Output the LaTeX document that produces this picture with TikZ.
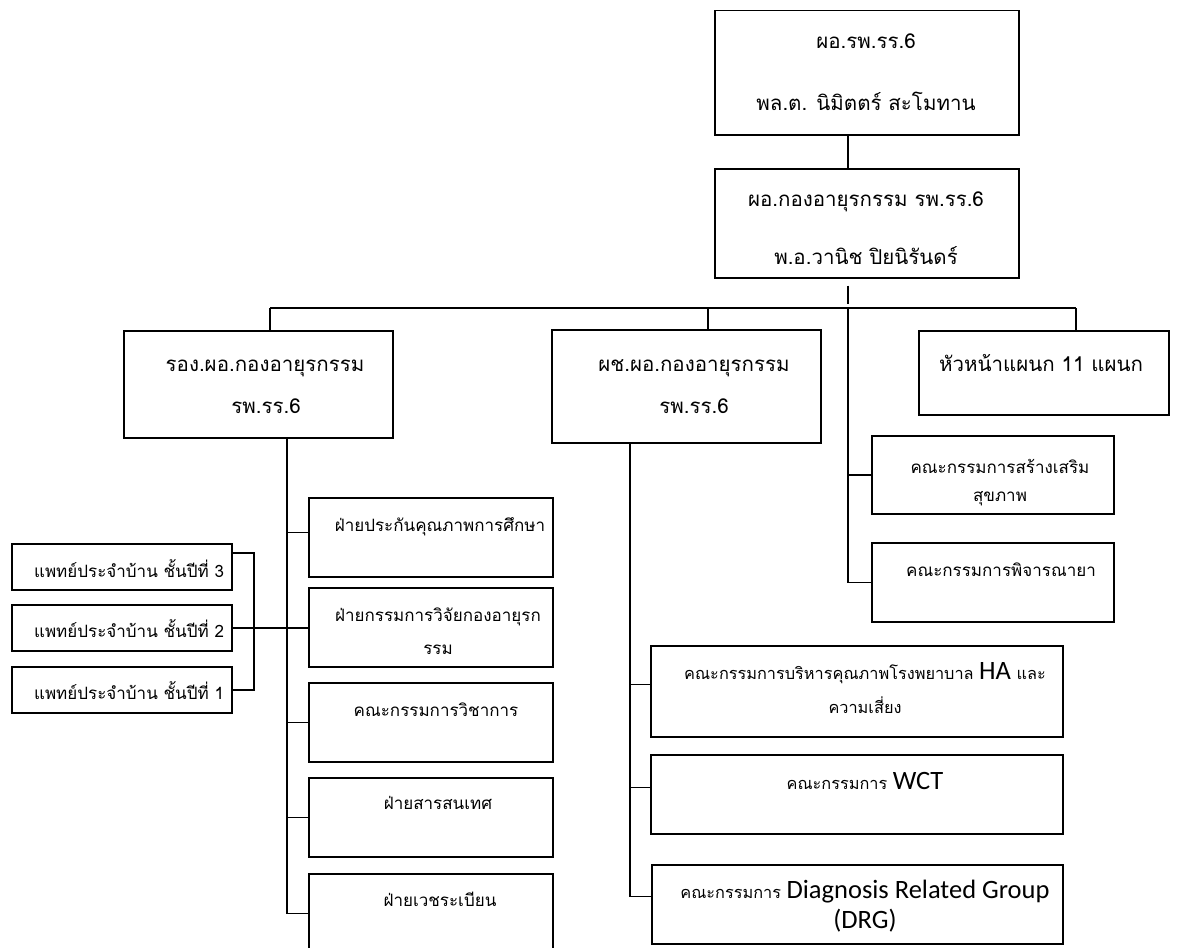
\documentclass[tikz,border=0pt]{standalone}
\usepackage{fontspec}
\newfontfamily\thai[Script=Thai]{Loma}
\newfontfamily\lat{Carlito}
\newcommand\latbig{\lat\fontsize{26.5}{30}\selectfont}
\begin{document}
\begin{tikzpicture}[x=1pt,y=-1pt,
 box/.style={draw, line width=1.5pt, inner sep=0pt, anchor=north west},
 ln/.style={line width=1.5pt},
 tA/.style={font=\thai\fontsize{20.5}{24}\selectfont, anchor=base, inner sep=0pt},
 tB/.style={font=\thai\fontsize{17}{20}\selectfont, anchor=base, inner sep=0pt},
 tC/.style={font=\thai\fontsize{16.3}{19}\selectfont, anchor=base, inner sep=0pt},
 lt/.style={font=\latbig}
]
\useasboundingbox (0,0) rectangle (1177,947);
% boxes
\node[box, minimum width=304pt, minimum height=124pt] (b1) at (714,10) {};
\node[box, minimum width=304pt, minimum height=109pt] (b2) at (714,168) {};
\node[box, minimum width=269pt, minimum height=107pt] (b3) at (123,330) {};
\node[box, minimum width=269pt, minimum height=113pt] (b4) at (551,329) {};
\node[box, minimum width=250pt, minimum height=84pt] (b5) at (918,330) {};
\node[box, minimum width=242pt, minimum height=78pt] (sr) at (871,435) {};
\node[box, minimum width=242pt, minimum height=79pt] (pj) at (871,542) {};
\node[box, minimum width=244pt, minimum height=79pt] (c1) at (308,497) {};
\node[box, minimum width=244pt, minimum height=79pt] (c2) at (308,587) {};
\node[box, minimum width=244pt, minimum height=79pt] (c3) at (308,682) {};
\node[box, minimum width=244pt, minimum height=79pt] (c4) at (308,777) {};
\node[box, minimum width=244pt, minimum height=79pt] (c5) at (308,873) {};
\node[box, minimum width=220pt, minimum height=46pt] (r3) at (11,543) {};
\node[box, minimum width=220pt, minimum height=46pt] (r2) at (11,604) {};
\node[box, minimum width=220pt, minimum height=46pt] (r1) at (11,666) {};
\node[box, minimum width=412pt, minimum height=91pt] (ha) at (650,645) {};
\node[box, minimum width=412pt, minimum height=79pt] (wct) at (650,754) {};
\node[box, minimum width=411pt, minimum height=79pt] (drg) at (651,864) {};
% texts
\node[tA] (t1a) at (866,49) {ผอ.รพ.รร.6};
\node[tA] (t1b) at (866,111) {พล.ต. นิมิตตร์ สะโมทาน};
\node[tA] (t2a) at (866,206) {ผอ.กองอายุรกรรม รพ.รร.6};
\node[tA] (t2b) at (866,264) {พ.อ.วานิช ปิยนิรันดร์};
\node[tA] (t3a) at (265,371) {รอง.ผอ.กองอายุรกรรม};
\node[tA] (t3b) at (266,413) {รพ.รร.6};
\node[tA] (t4a) at (694,371) {ผช.ผอ.กองอายุรกรรม};
\node[tA] (t4b) at (694,413) {รพ.รร.6};
\node[tA] (t5) at (1041,371) {หัวหน้าแผนก 11 แผนก};
\node[tB] (tsr1) at (1000,473) {คณะกรรมการสร้างเสริม};
\node[tB] (tsr2) at (1000,501) {สุขภาพ};
\node[tB] (tpj) at (1001,576) {คณะกรรมการพิจารณายา};
\node[tB] (tc1) at (440,531) {ฝ่ายประกันคุณภาพการศึกษา};
\node[tB] (tc2a) at (438,621) {ฝ่ายกรรมการวิจัยกองอายุรก};
\node[tB] (tc2b) at (438,654) {รรม};
\node[tB] (tc3) at (436,716) {คณะกรรมการวิชาการ};
\node[tB] (tc4) at (438,809) {ฝ่ายสารสนเทศ};
\node[tB] (tc5) at (440,906) {ฝ่ายเวชระเบียน};
\node[tB] (tr3) at (129,577) {แพทย์ประจำบ้าน ชั้นปีที่ 3};
\node[tB] (tr2) at (129,637) {แพทย์ประจำบ้าน ชั้นปีที่ 2};
\node[tB] (tr1) at (129,699) {แพทย์ประจำบ้าน ชั้นปีที่ 1};
\node[tC] (tha1) at (865,679) {คณะกรรมการบริหารคุณภาพโรงพยาบาล {\latbig HA} และ};
\node[tC] (tha2) at (865,713) {ความเสี่ยง};
\node[tC] (twct) at (865,789) {คณะกรรมการ {\latbig WCT}};
\node[tC] (tdrg1) at (865,898) {คณะกรรมการ {\latbig Diagnosis Related Group}};
\node[tC, lt] (tdrg2) at (865,928) {(DRG)};
% connectors
\draw[ln] ([xshift=134pt]b1.south west) -- ([xshift=134pt]b2.north west);
\draw[ln] ([xshift=134pt,yshift=-7pt]b2.south west) -- ([xshift=134pt,yshift=-25pt]b2.south west);
\coordinate (hl) at (270,308);
\coordinate (hr) at (1076,308);
\coordinate (d4) at (708,308);
\coordinate (cv) at (848,308);
\draw[ln] (hl) -- (hr);
\draw[ln] (hl) -- (hl |- b3.north);
\draw[ln] (d4) -- (d4 |- b4.north);
\draw[ln] (hr) -- (hr |- b5.north);
\draw[ln] (cv) |- (pj.west);
\draw[ln] (cv |- sr.west) -- (sr.west);
% left branch
\coordinate (lv) at (287,437);
\draw[ln] (lv) |- (c5.west);
\draw[ln] ([yshift=5pt]lv |- c1.west) -- ([yshift=5pt]c1.west);
\draw[ln] (lv |- c2.west) -- (c2.west);
\draw[ln] (lv |- c3.west) -- (c3.west);
\draw[ln] (lv |- c4.west) -- (c4.west);
% residents
\coordinate (bk) at (254,553);
\draw[ln] ([yshift=-10pt]r3.north east) -- (bk) |- (r1.east);
\draw[ln] (r2.east) -- (r2.east -| c2.west);
% assistant branch
\coordinate (mv) at (630,442);
\draw[ln] (mv) -- ([yshift=8pt]mv |- drg.west) -- ([yshift=8pt]drg.west);
\draw[ln] ([yshift=7pt]mv |- ha.west) -- ([yshift=7pt]ha.west);
\draw[ln] ([yshift=7pt]mv |- wct.west) -- ([yshift=7pt]wct.west);
\end{tikzpicture}
\end{document}
